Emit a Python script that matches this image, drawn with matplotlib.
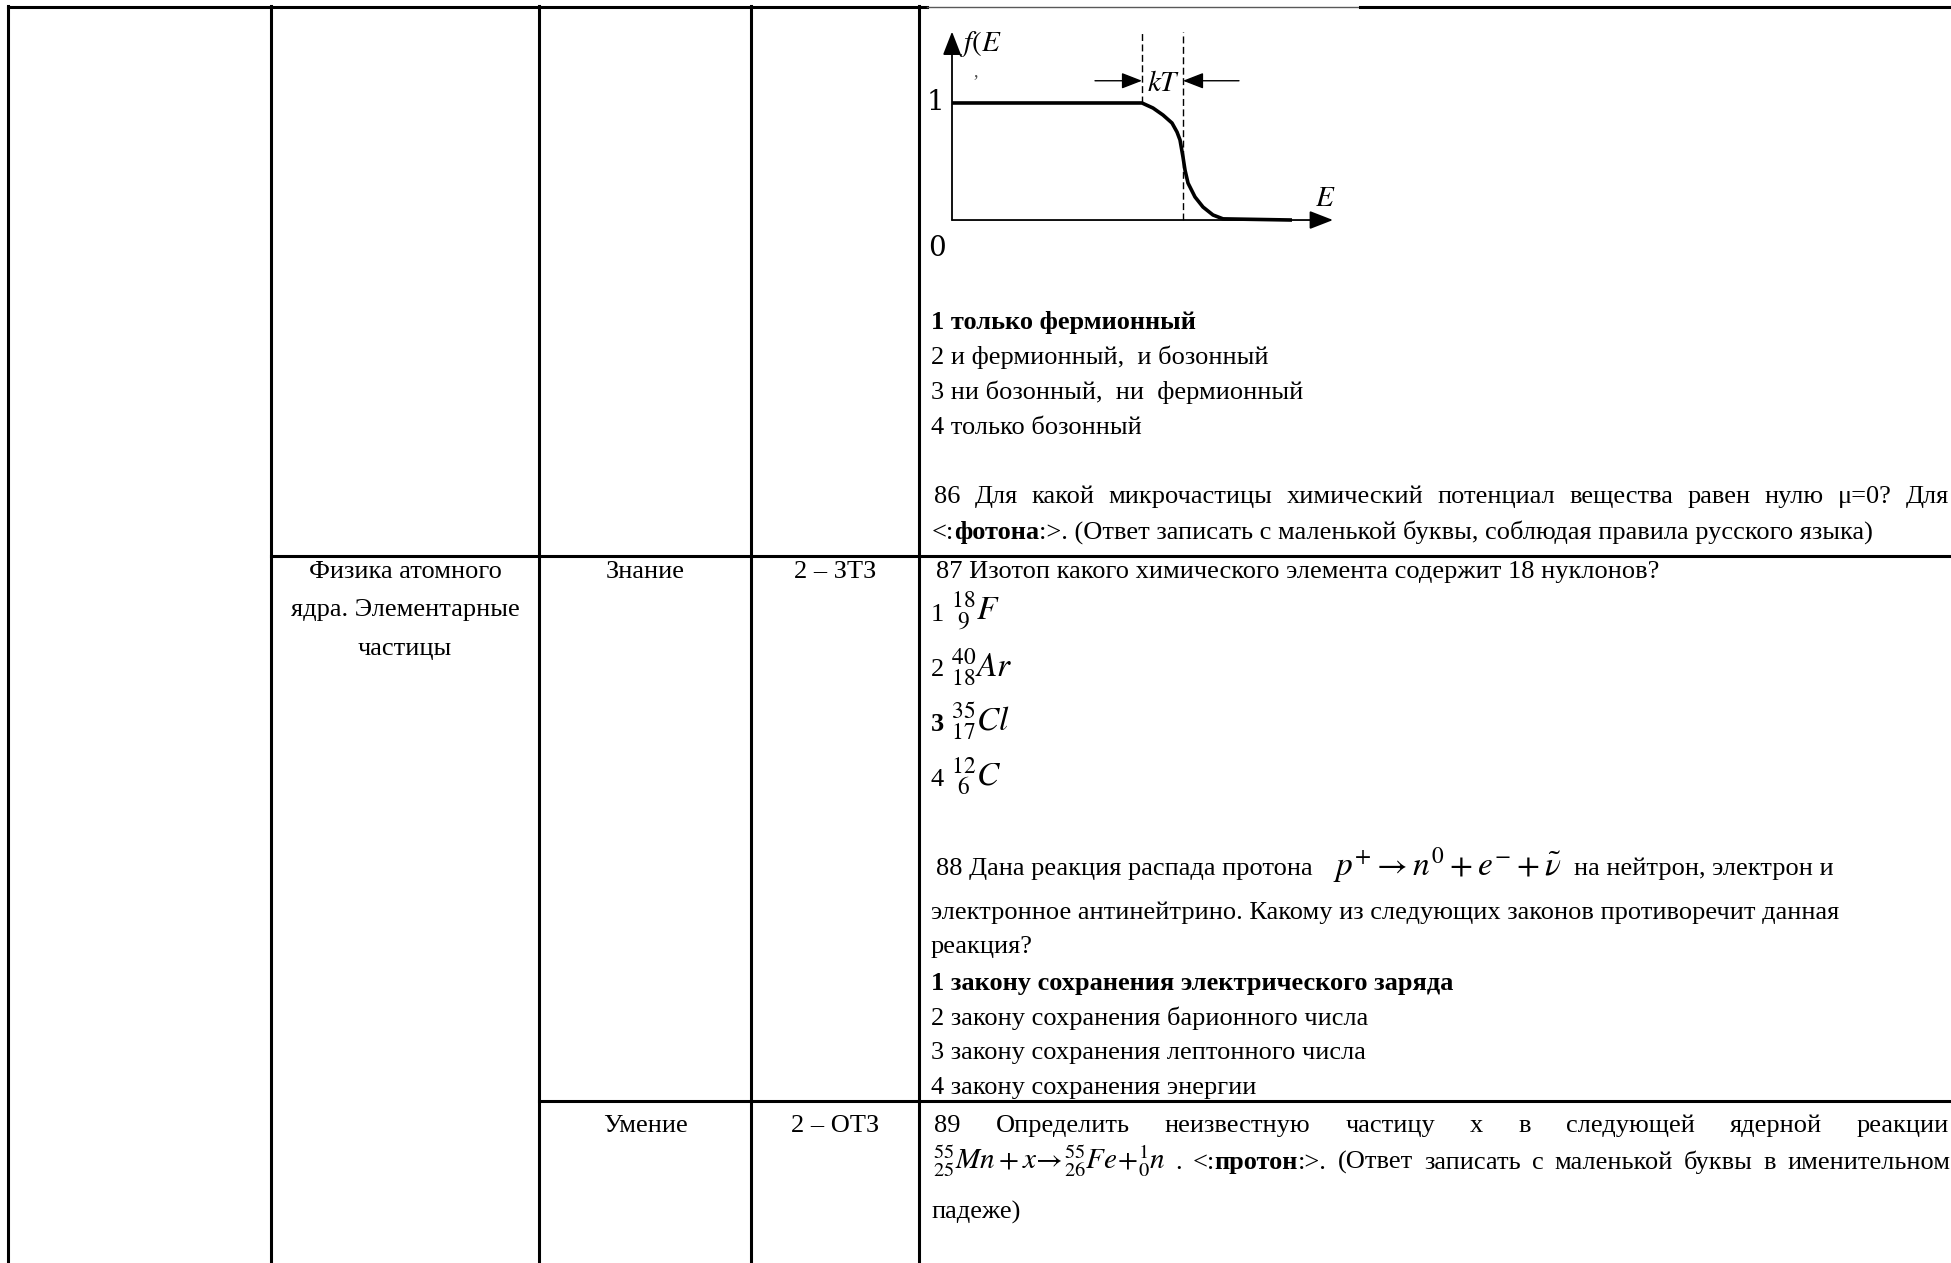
import matplotlib.pyplot as plt

plt.rcParams['font.family'] = 'Liberation Serif'
plt.rcParams['mathtext.fontset'] = 'stix'

FS = 19

# Fermi-Dirac curve (E in arbitrary units, f(E))
E_curve = [0.0, 1.90, 2.01, 2.11, 2.20, 2.25, 2.28, 2.31, 2.33, 2.36, 2.43, 2.51, 2.61, 2.71, 3.40]
f_curve = [1.0, 1.0, 0.957, 0.897, 0.829, 0.752, 0.684, 0.538, 0.427, 0.316, 0.197, 0.111, 0.043, 0.01, 0.0]
E_lo, E_mu = 1.90, 2.31          # dashed lines
E_axis_end, f_axis_end = 3.81, 1.61

answers_85 = ["1 только фермионный", "2 и фермионный,  и бозонный",
              "3 ни бозонный,  ни  фермионный", "4 только бозонный"]
answers_88 = ["1 закону сохранения электрического заряда", "2 закону сохранения барионного числа",
              "3 закону сохранения лептонного числа", "4 закону сохранения энергии"]
isotopes = [r"${}^{18}_{\ 9}F$", r"${}^{40}_{18}Ar$", r"${}^{35}_{17}Cl$", r"${}^{12}_{\ 6}C$"]

fig = plt.figure(figsize=(19.51, 12.63), dpi=100)
ax = fig.add_axes([0, 0, 1, 1])
ax.set_xlim(0, 1951)
ax.set_ylim(1263, 0)
ax.axis('off')
r = fig.canvas.get_renderer()


def ext(s, size=FS, weight='normal'):
    t = ax.text(0, 0, s, fontsize=size, fontweight=weight)
    w = t.get_window_extent(r).width
    t.remove()
    return w


def measure(s, weight='normal', size=FS):
    return ext('|' + s + '|', size, weight) - ext('||', size, weight)


def run(x, y, parts):
    # parts: (text, weight, size) or a number = extra gap in px
    for p in parts:
        if isinstance(p, (int, float)):
            x += p
            continue
        s, w, sz = p
        ax.text(x, y, s, fontsize=sz, fontweight=w, va='baseline', ha='left')
        x += measure(s, w, sz)
    return x


def justify(x0, x1, y, words):
    # words: list of lists of (text, weight, size)
    widths = [sum(measure(*p) for p in w) for w in words]
    gap = (x1 - x0 - sum(widths)) / (len(words) - 1)
    x = x0
    for w, wd in zip(words, widths):
        run(x, y, w)
        x += wd + gap


def plain(s):
    return [[(w, 'normal', FS)] for w in s.split()]


# ---- table lines ----
lw = 2.2
ax.plot([8, 927], [7, 7], color='k', lw=lw)
ax.plot([927, 1360], [7, 7], color='0.35', lw=1.0)
ax.plot([1360, 1951], [7, 7], color='k', lw=lw)
for xc in [8, 271, 539, 751, 919]:
    ax.plot([xc, xc], [6, 1263], color='k', lw=lw)
ax.plot([271, 1951], [556, 556], color='k', lw=lw)
ax.plot([539, 1951], [1101, 1101], color='k', lw=lw)

# ---- graph f(E) ----
gx0, gx1, gy0, gy1 = 902, 1352, 20, 270
gax = fig.add_axes([gx0 / 1951, 1 - gy1 / 1263, (gx1 - gx0) / 1951, (gy1 - gy0) / 1263])
gax.set_xlim(-0.5, 4.0)
gax.set_ylim(-0.427, 1.709)
gax.axis('off')
arr = dict(arrowstyle='-|>,head_length=0.9,head_width=0.35', color='k', lw=1.3,
           mutation_scale=16, shrinkA=0, shrinkB=0)
gax.annotate('', xy=(E_axis_end, 0), xytext=(0, 0), arrowprops=arr)
gax.annotate('', xy=(0, f_axis_end), xytext=(0, 0), arrowprops=arr)
gax.plot(E_curve, f_curve, color='k', lw=2.6, solid_capstyle='butt')
gax.plot([E_lo, E_lo], [1.0, f_axis_end], color='k', lw=1.0, ls=(0, (5, 2.5)))
gax.plot([E_mu, E_mu], [0, f_axis_end], color='k', lw=1.0, ls=(0, (5, 2.5)))
arr2 = dict(arrowstyle='-|>,head_length=0.9,head_width=0.35', color='k', lw=1.0,
            mutation_scale=14, shrinkA=0, shrinkB=0)
gax.annotate('', xy=(E_lo, 1.19), xytext=(1.43, 1.19), arrowprops=arr2)
gax.annotate('', xy=(E_mu, 1.19), xytext=(2.87, 1.19), arrowprops=arr2)
gax.text(2.12, 1.16, '$kT$', fontsize=21, ha='center', va='center')
gax.text(0.07, 1.50, '$f(E$', fontsize=21, ha='left', va='center')
gax.text(0.21, 1.27, ',', fontsize=13, ha='left', va='center', color='0.3')
gax.text(-0.08, 1.0, '1', fontsize=20, ha='right', va='center', family='DejaVu Serif')
gax.text(-0.06, -0.24, '0', fontsize=20, ha='right', va='center', family='DejaVu Serif')
gax.text(3.73, 0.18, '$E$', fontsize=21, ha='center', va='center')

# ---- question 85 answers ----
ys = [329, 364, 399, 434]
for i, (s, y) in enumerate(zip(answers_85, ys)):
    ax.text(931, y, s, fontsize=FS, va='baseline', fontweight='bold' if i == 0 else 'normal')

# ---- question 86 ----
justify(934, 1949, 503, plain("86 Для какой микрочастицы химический потенциал вещества равен нулю μ=0? Для"))
run(932, 539, [("<:", 'normal', FS), ("фотона", 'bold', FS),
               (":>. (Ответ записать с маленькой буквы, соблюдая правила русского языка)", 'normal', FS)])

# ---- row headers ----
for s, y in zip(["Физика атомного", "ядра. Элементарные", "частицы"], [578, 616, 655]):
    ax.text(405, y, s, fontsize=FS, ha='center', va='baseline')
ax.text(645, 578, "Знание", fontsize=FS, ha='center', va='baseline')
ax.text(835, 578, "2 – ЗТЗ", fontsize=FS, ha='center', va='baseline')
ax.text(645, 1132, "Умение", fontsize=FS, ha='center', va='baseline')
ax.text(835, 1132, "2 – ОТЗ", fontsize=FS, ha='center', va='baseline')

# ---- question 87 ----
ax.text(936, 578, "87 Изотоп какого химического элемента содержит 18 нуклонов?", fontsize=FS, va='baseline')
for i, (iso, y) in enumerate(zip(isotopes, [621, 676, 731, 786])):
    run(931, y, [(f"{i + 1} ", 'bold' if i == 2 else 'normal', FS), (iso, 'normal', 24)])

# ---- question 88 ----
run(936, 875, [("88 Дана реакция распада протона", 'normal', FS), 20,
               (r"$p^{+}\rightarrow n^{0}+e^{-}+\tilde{\nu}$", 'normal', 24), 18,
               ("на нейтрон, электрон и", 'normal', FS)])
ax.text(931, 919, "электронное антинейтрино. Какому из следующих законов противоречит данная",
        fontsize=FS, va='baseline')
ax.text(931, 953, "реакция?", fontsize=FS, va='baseline')
for i, (s, y) in enumerate(zip(answers_88, [990, 1025, 1059, 1094])):
    ax.text(931, y, s, fontsize=FS, va='baseline', fontweight='bold' if i == 0 else 'normal')

# ---- question 89 ----
justify(934, 1949, 1132, plain("89 Определить неизвестную частицу x в следующей ядерной реакции"))
words = [[(r"${}^{55}_{25}Mn+x\!\rightarrow\!{}^{55}_{26}Fe\!+\!{}^{1}_{0}n$", 'normal', 21)],
         [(".", 'normal', FS)],
         [("<:", 'normal', FS), ("протон", 'bold', FS), (":>.", 'normal', FS)]] + \
        plain("(Ответ записать с маленькой буквы в именительном")
justify(933, 1950, 1169, words)
ax.text(931, 1219, "падеже)", fontsize=FS, va='baseline')

fig.savefig('out.png', dpi=100)
